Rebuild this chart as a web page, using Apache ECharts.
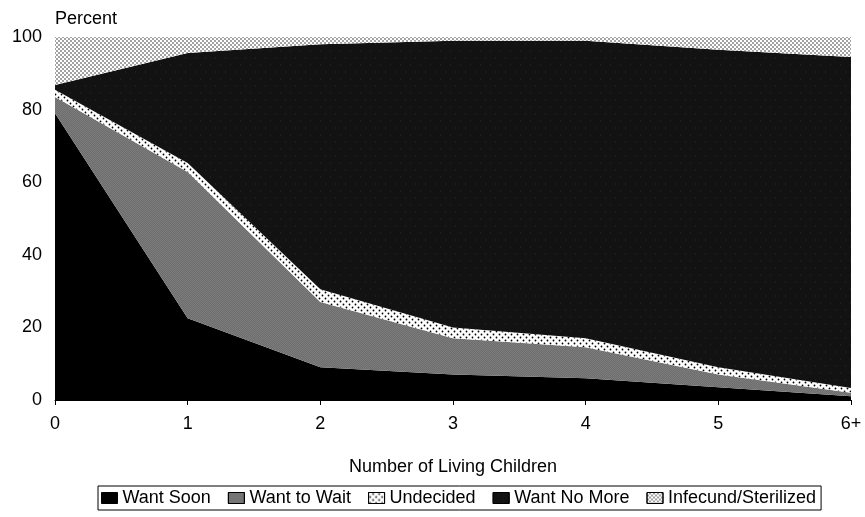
<!DOCTYPE html>
<html>
<head>
<meta charset="utf-8">
<title>Fertility preferences by number of living children</title>
<script src="https://cdn.jsdelivr.net/npm/echarts@6/dist/echarts.min.js"></script>
<style>
  html, body { margin: 0; padding: 0; background: #fff; }
  #chart { width: 865px; height: 517px; }
</style>
</head>
<body>
<div id="chart"></div>
<script>
  // x categories
  var categories = ['0', '1', '2', '3', '4', '5', '6+'];
  // percent of women in each group (stacked to 100)
  var wantSoon = [79, 22.5, 9, 7, 6, 3.5, 1];
  var wantToWait = [4.5, 40.3, 18, 10, 8.5, 3.5, 1];
  var undecided = [2, 2.5, 3.5, 3, 2.5, 2, 1.3];
  var wantNoMore = [1.3, 30.3, 67.5, 79, 82, 87.5, 91.2];
  var infecund = [13.2, 4.4, 2, 1, 1, 3.5, 5.5];
  var yTicks = [0, 20, 40, 60, 80, 100];

  var font = "'Liberation Sans', Arial, sans-serif";

  function layer(name, values, color, decal) {
    var s = {
      name: name,
      type: 'line',
      stack: 'all',
      data: values,
      symbol: 'none',
      lineStyle: { width: 0 },
      areaStyle: { color: color, opacity: 1 },
      itemStyle: { color: color },
      emphasis: { disabled: true }
    };
    if (decal) s.itemStyle.decal = decal;
    return s;
  }

  var chart = echarts.init(document.getElementById('chart'));
  chart.setOption({
    animation: false,
    backgroundColor: '#fff',
    textStyle: { fontFamily: font },
    grid: { left: 55, right: 14, top: 37, bottom: 117 },
    legend: {
      left: 98,
      top: 486,
      orient: 'horizontal',
      icon: 'rect',
      itemWidth: 16,
      itemHeight: 11,
      itemGap: 17,
      padding: [3, 5, 3, 3],
      borderColor: '#000',
      borderWidth: 1,
      borderRadius: 0,
      textStyle: { fontSize: 18, color: '#000', fontFamily: font },
      itemStyle: { borderColor: '#000', borderWidth: 1 },
      data: ['Want Soon', 'Want to Wait', 'Undecided', 'Want No More', 'Infecund/Sterilized']
    },
    xAxis: {
      type: 'category',
      data: categories,
      boundaryGap: false,
      name: 'Number of Living Children',
      nameLocation: 'middle',
      nameGap: 58,
      nameTextStyle: { fontSize: 18, color: '#000', fontFamily: font },
      axisLine: { lineStyle: { color: '#000', width: 1 } },
      axisTick: { show: true, length: 5, lineStyle: { color: '#000' } },
      axisLabel: { fontSize: 18, color: '#000', margin: 15, fontFamily: font },
      splitLine: { show: false }
    },
    yAxis: {
      type: 'value',
      min: yTicks[0],
      max: yTicks[yTicks.length - 1],
      interval: 20,
      name: 'Percent',
      nameLocation: 'end',
      nameGap: 18,
      nameTextStyle: { fontSize: 18, color: '#000', align: 'left', verticalAlign: 'middle', fontFamily: font },
      axisLine: { show: false },
      axisTick: { show: false },
      axisLabel: { fontSize: 18, color: '#000', margin: 13, fontFamily: font },
      splitLine: { show: false }
    },
    series: [
      layer('Want Soon', wantSoon, '#000'),
      layer('Want to Wait', wantToWait, '#7c7c7c', {
        symbol: 'rect', symbolSize: 0.5, color: 'rgba(0,0,0,0.45)',
        dashArrayX: [[1, 1], [0, 1, 1, 0]], dashArrayY: [1, 0], rotation: 0
      }),
      layer('Undecided', undecided, '#fff', {
        symbol: 'circle', symbolSize: 0.6, color: '#000',
        dashArrayX: [[3, 3], [0, 3, 3, 0]], dashArrayY: [3, 0]
      }),
      layer('Want No More', wantNoMore, '#121212', {
        symbol: 'rect', symbolSize: 0.3, color: 'rgba(255,255,255,0.35)',
        dashArrayX: [[1, 9], [0, 5, 1, 4]], dashArrayY: [4, 3]
      }),
      layer('Infecund/Sterilized', infecund, '#fff', {
        symbol: 'circle', symbolSize: 0.7, color: '#000',
        dashArrayX: [[2, 2], [0, 2, 2, 0]], dashArrayY: [2, 0]
      })
    ]
  });
</script>
</body>
</html>
